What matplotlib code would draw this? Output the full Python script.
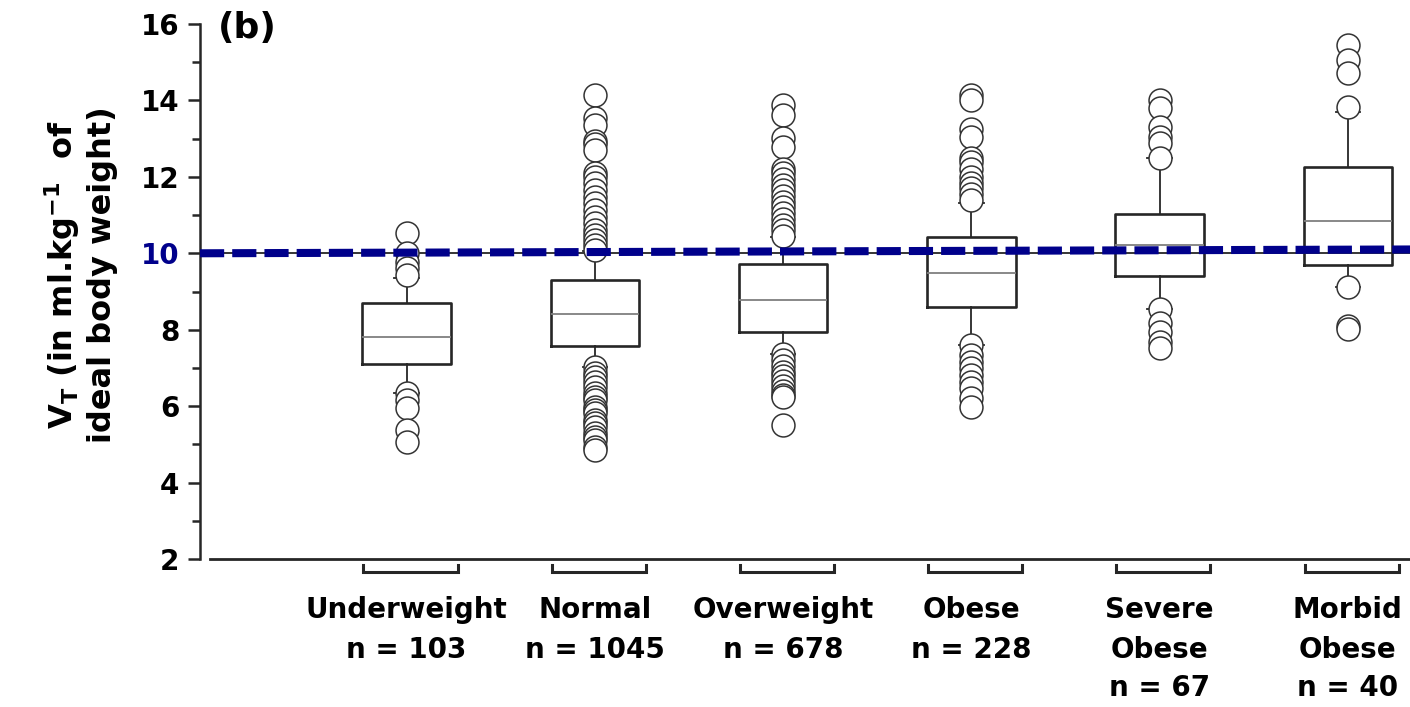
import matplotlib
matplotlib.use("Agg")
import matplotlib.pyplot as plt
import matplotlib.transforms as mtransforms
from matplotlib.ticker import MultipleLocator

# ---------------- data ----------------
categories = ["Underweight\nn = 103", "Normal\nn = 1045", "Overweight\nn = 678",
              "Obese\nn = 228", "Severe\nObese\nn = 67", "Morbid\nObese\nn = 40"]
q1 = [7.10, 7.58, 7.94, 8.60, 9.41, 9.70]
medians = [7.81, 8.41, 8.78, 9.49, 10.22, 10.85]
q3 = [8.70, 9.30, 9.72, 10.43, 11.03, 12.26]
whisker_low = [6.35, 7.03, 7.37, 7.60, 8.54, 9.12]
whisker_high = [9.36, 10.05, 10.43, 11.32, 12.50, 13.70]

fliers_underweight = [10.53, 10.0, 9.77, 9.62, 9.43,
                      6.35, 6.16, 5.95, 5.38, 5.06]
fliers_normal = [14.15, 13.54, 13.36, 12.95, 12.85, 12.70, 12.10, 12.0, 11.84, 11.66,
                 11.48, 11.32, 11.14, 10.95, 10.80, 10.61, 10.48, 10.35, 10.22, 10.09,
                 7.03, 6.87, 6.75, 6.62, 6.50, 6.35, 6.25, 6.16, 5.98, 5.90, 5.82,
                 5.64, 5.55, 5.46, 5.30, 5.20, 5.12, 4.93, 4.85]
fliers_overweight = [13.88, 13.62, 13.02, 12.79, 12.20, 12.10, 11.95, 11.80, 11.65,
                     11.50, 11.35, 11.20, 11.05, 10.90, 10.75, 10.60, 10.45,
                     7.37, 7.20, 7.05, 6.90, 6.78, 6.65, 6.52, 6.40, 6.30, 6.24, 5.51]
fliers_obese = [14.15, 14.0, 13.25, 13.05, 12.50, 12.40, 12.20, 12.0, 11.85, 11.70,
                11.55, 11.40,
                7.60, 7.34, 7.16, 7.0, 6.82, 6.63, 6.48, 6.21, 5.98]
fliers_severe = [14.02, 13.81, 13.31, 13.05, 12.89, 12.50,
                 8.54, 8.18, 7.94, 7.68, 7.52]
fliers_morbid = [15.45, 15.06, 14.72, 13.83,
                 9.12, 8.10, 8.03]
fliers = [fliers_underweight, fliers_normal, fliers_overweight,
          fliers_obese, fliers_severe, fliers_morbid]

ref_line = [10.0, 10.1]     # dashed reference line (left end, right end)
y_ticks = [2, 4, 6, 8, 10, 12, 14, 16]

# ---------------- style ----------------
plt.rcParams['font.family'] = ['DejaVu Sans']
plt.rcParams['font.weight'] = 'bold'
plt.rcParams['mathtext.fontset'] = 'custom'
plt.rcParams['mathtext.rm'] = 'DejaVu Sans:bold'
plt.rcParams['mathtext.it'] = 'DejaVu Sans:bold'
plt.rcParams['mathtext.bf'] = 'DejaVu Sans:bold'

W, H = 1410, 707
fig = plt.figure(figsize=(W / 100, H / 100), dpi=100)
ax = fig.add_axes([200 / W, 1 - 559 / H, 1 - 200 / W, (559 - 24) / H])

positions = list(range(1, len(categories) + 1))
xl0, xl1 = -0.098, 6.33

stats = []
for i in range(len(categories)):
    stats.append(dict(label="", q1=q1[i], med=medians[i], q3=q3[i],
                      whislo=whisker_low[i], whishi=whisker_high[i],
                      fliers=fliers[i]))

ink = '#262626'
ax.bxp(stats, positions=positions, widths=0.47, capwidths=0.13,
       boxprops=dict(color=ink, lw=1.9),
       medianprops=dict(color='#7f7f7f', lw=1.3),
       whiskerprops=dict(color=ink, lw=1.3),
       capprops=dict(color=ink, lw=1.3),
       flierprops=dict(marker='o', markersize=16.5, markerfacecolor='white',
                       markeredgecolor='#333333', markeredgewidth=1.1))

# reference lines at 10
ax.axhline(10, color=ink, lw=1.3, zorder=1.5)
ax.plot([xl0, xl1], ref_line, color='#00008B', lw=5.8, dashes=(3, 1),
        zorder=6, solid_capstyle='butt', dash_capstyle='butt')

ax.set_xlim(xl0, xl1)
ax.set_ylim(2, 16)

# spines
for s in ['top', 'right']:
    ax.spines[s].set_visible(False)
ax.spines['left'].set_linewidth(1.8)
ax.spines['left'].set_color(ink)
ax.spines['left'].set_bounds(2, 16)
ax.spines['bottom'].set_linewidth(2.0)
ax.spines['bottom'].set_color(ink)
ax.spines['bottom'].set_bounds(xl0 + 10 / 188.3, xl1)

# y ticks
ax.yaxis.set_minor_locator(MultipleLocator(1))
ax.set_yticks(y_ticks)
ax.set_yticklabels([str(v) for v in y_ticks])
ax.tick_params(axis='y', which='major', direction='out', length=9, width=1.8,
               color=ink, labelsize=20, pad=6)
ax.tick_params(axis='y', which='minor', direction='out', length=6, width=1.8,
               color=ink)
for lab, v in zip(ax.get_yticklabels(), y_ticks):
    lab.set_fontweight('bold')
    if v == 10:
        lab.set_color('#00008B')

# x ticks / labels
ax.set_xticks(positions)
ax.set_xticklabels(categories, fontsize=20, fontweight='bold', linespacing=1.5)
ax.tick_params(axis='x', which='both', length=0, pad=27)
for lab in ax.get_xticklabels():
    lab.set_x(lab.get_position()[0])

# brackets under each category
trans = mtransforms.blended_transform_factory(ax.transData, ax.transAxes)
yt, yb = -6 / 535, -13 / 535
for p in positions:
    ax.plot([p - 0.23, p - 0.23, p + 0.27, p + 0.27], [yt, yb, yb, yt],
            transform=trans, clip_on=False, color=ink, lw=2.2,
            solid_joinstyle='miter')

# panel label and y-label
fig.text(218 / W, 1 - 28 / H, '(b)', fontsize=26, fontweight='bold',
         ha='left', va='center')
fig.text(80 / W, 1 - 275 / H,
         'V$_{\\mathrm{T}}$ (in ml.kg$^{-1}$  of\nideal body weight)',
         rotation=90, ha='center', va='center', fontsize=23, fontweight='bold',
         multialignment='center', linespacing=1.2)

fig.savefig('out.png', dpi=100)
